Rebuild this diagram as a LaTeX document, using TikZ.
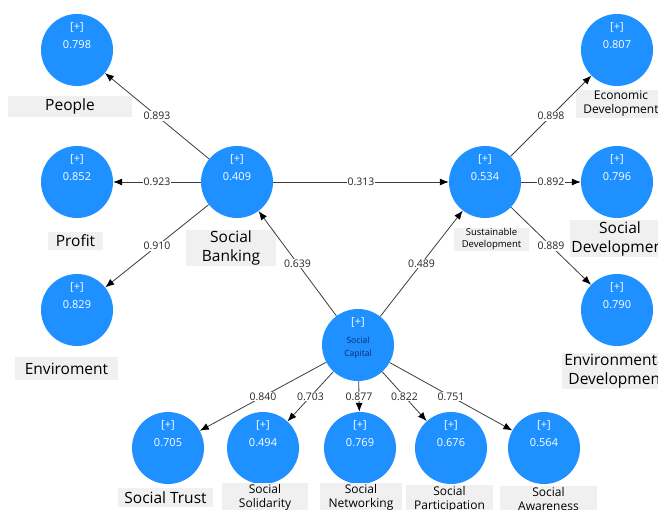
\documentclass[tikz,border=0pt]{standalone}
\usepackage{fontspec}
\setmainfont{Open Sans}
\usepackage{xcolor}
\usetikzlibrary{arrows.meta, positioning}
\definecolor{lvblue}{RGB}{30,144,255}
\definecolor{lblgray}{RGB}{240,240,240}
\definecolor{linegray}{RGB}{60,60,60}
\definecolor{capnavy}{RGB}{20,40,110}
% cerchio di una variabile latente con [+] e valore
\newcommand{\latent}[4]{%
    \node[lv] (#1) at (#2,#3) {};
    \node[lvtxt] at (#2,{#3-23}) {[+]};
    \node[lvtxt] at (#2,{#3-5}) {#4};
}

\begin{document}
\begin{tikzpicture}[x=1pt, y=-1pt,
    lv/.style = {circle, fill=lvblue, minimum size=72pt, inner sep=0pt},
    lvtxt/.style = {text=white, font=\fontsize{11}{12}\selectfont, inner sep=0pt},
    lbl/.style = {fill=lblgray, inner sep=1pt, align=center},
    big/.style = {lbl, font=\fontsize{15.5}{19}\selectfont},
    small/.style = {lbl, font=\fontsize{12}{14}\selectfont},
    tiny/.style = {lbl, font=\fontsize{9.5}{12}\selectfont},
    arr/.style = {draw=linegray, line width=0.8pt, -{Latex[length=9pt, width=7pt, black]}},
    w/.style = {fill=white, inner sep=1pt, font=\fontsize{10.5}{12}\selectfont, text=black!85}]
    \useasboundingbox (0,0) rectangle (658,510);
    % Social Banking e indicatori
    \latent{people}{77}{50}{0.798}
    \latent{profit}{77}{182}{0.852}
    \latent{envir}{77}{310}{0.829}
    \latent{sb}{237}{182}{0.409}
    % Sustainable Development e indicatori
    \latent{sd}{485}{182}{0.534}
    \latent{econ}{617}{50}{0.807}
    \latent{social}{617}{182}{0.796}
    \latent{envdev}{617}{310}{0.790}
    % Social Capital
    \node[lv] (sc) at (358,345) {};
    \node[lvtxt] at (358,322) {[+]};
    \node[inner sep=0pt, align=center, text=capnavy,
          font=\fontsize{8.5}{12.5}\selectfont] at (358,348) {Social\\Capital};
    % indicatori di Social Capital
    \latent{trust}{168}{448}{0.705}
    \latent{solid}{263}{448}{0.494}
    \latent{netw}{360}{448}{0.769}
    \latent{part}{451}{448}{0.676}
    \latent{aware}{544}{448}{0.564}
    % Etichette
    \node[big, minimum width=124pt, minimum height=21pt] at (70,106.5) {People};
    \node[big, minimum width=55pt, minimum height=18pt] at (75.5,241) {Profit};
    \node[big, minimum width=90pt] at (231,248) {Social\\Banking};
    \node[big, minimum width=103pt, minimum height=23pt] at (66.5,368.5) {Enviroment};
    \node[small, minimum width=90pt] at (621,104) {Economic\\Development};
    \node[tiny, minimum width=75pt] at (491.5,239.5) {Sustainable\\Development};
    \node[big, minimum width=90pt] at (620,238.5) {Social\\Development};
    \node[big, minimum width=110pt] at (617,371) {Environmental\\Development};
    \node[big, minimum width=95pt, minimum height=19pt] at (165.5,497.5) {Social Trust};
    \node[small, minimum width=86pt] at (265,497) {Social\\Solidarity};
    \node[small, minimum width=82pt] at (361,497) {Social\\Networking};
    \node[small, minimum width=87pt] at (449.5,499) {Social\\Participation};
    \node[small, minimum width=97pt] at (548.5,499) {Social\\Awareness};
    % Frecce
    \draw[arr] (sb) -- node[w]{0.893} (people);
    \draw[arr] (sb) -- node[w]{0.923} (profit);
    \draw[arr] (sb) -- node[w]{0.910} (envir);
    \draw[arr] (sb) -- node[w]{0.313} (sd);
    \draw[arr] (sd) -- node[w]{0.898} (econ);
    \draw[arr] (sd) -- node[w]{0.892} (social);
    \draw[arr] (sd) -- node[w]{0.889} (envdev);
    \draw[arr] (sc) -- node[w]{0.639} (sb);
    \draw[arr] (sc) -- node[w]{0.489} (sd);
    \draw[arr] (sc) -- node[w]{0.840} (trust);
    \draw[arr] (sc) -- node[w]{0.703} (solid);
    \draw[arr] (sc) -- node[w]{0.877} (netw);
    \draw[arr] (sc) -- node[w]{0.822} (part);
    \draw[arr] (sc) -- node[w]{0.751} (aware);
\end{tikzpicture}
\end{document}
